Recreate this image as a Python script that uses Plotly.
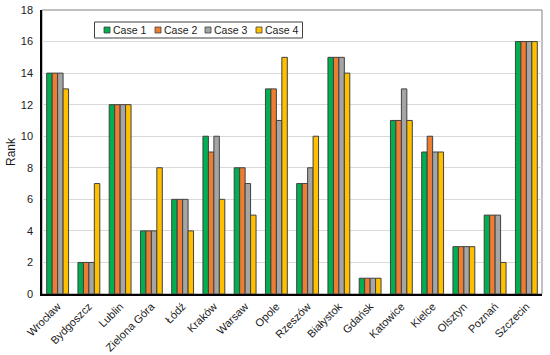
import plotly.graph_objects as go

cities = ["Wrocław", "Bydgoszcz", "Lublin", "Zielona Góra", "Łódź", "Kraków", "Warsaw", "Opole",
          "Rzeszów", "Białystok", "Gdańsk", "Katowice", "Kielce", "Olsztyn", "Poznań", "Szczecin"]
case1 = [14, 2, 12, 4, 6, 10, 8, 13, 7, 15, 1, 11, 9, 3, 5, 16]
case2 = [14, 2, 12, 4, 6, 9, 8, 13, 7, 15, 1, 11, 10, 3, 5, 16]
case3 = [14, 2, 12, 4, 6, 10, 7, 11, 8, 15, 1, 13, 9, 3, 5, 16]
case4 = [13, 7, 12, 8, 4, 6, 5, 15, 10, 14, 1, 11, 9, 3, 2, 16]
y_ticks = [0, 2, 4, 6, 8, 10, 12, 14, 16, 18]

series = [("Case 1", case1, "#00B050"), ("Case 2", case2, "#ED7D31"),
          ("Case 3", case3, "#A5A5A5"), ("Case 4", case4, "#FFC000")]

W, H = 550, 355
L, R, T, B = 42, 8, 10, 61
pw, ph = W - L - R, H - T - B

def px(x):
    return (x - L) / pw

def py(y):
    return (H - B - y) / ph

fig = go.Figure()
for name, vals, col in series:
    fig.add_trace(go.Bar(x=cities, y=vals, name=name,
                         marker=dict(color=col, line=dict(color="#404040", width=1))))

FONT = "Liberation Sans, Arial, sans-serif"
fig.update_layout(
    width=W, height=H,
    margin=dict(l=L, r=R, t=T, b=B),
    paper_bgcolor="white", plot_bgcolor="white",
    font=dict(family=FONT, size=11, color="#1a1a1a"),
    barmode="group", bargap=0.3, bargroupgap=0,
    showlegend=False,
    xaxis=dict(tickangle=-45, showline=True, linecolor="#000", linewidth=1.5,
               ticks="", tickfont=dict(size=11), automargin=False),
    yaxis=dict(range=[0, 18], tickvals=y_ticks, showgrid=True, gridcolor="#d9d9d9",
               zeroline=False, showline=True, linecolor="#000", linewidth=1.5, ticks="",
               ticklabelstandoff=5, automargin=False,
               title=dict(text="Rank", font=dict(size=12), standoff=3),
               tickfont=dict(size=11)),
)
# grey frame on top/right
fig.add_shape(type="rect", xref="paper", yref="paper", x0=0, y0=0, x1=1, y1=1,
              line=dict(color="#808080", width=1), layer="below")

# custom legend (box, swatches, labels)
fig.add_shape(type="rect", xref="paper", yref="paper", x0=px(94.5), x1=px(302.5),
              y0=py(38), y1=py(22), line=dict(color="#404040", width=1), fillcolor="white")
sw_x = [104, 155, 205, 256]
for (name, vals, col), sx in zip(series, sw_x):
    fig.add_shape(type="rect", xref="paper", yref="paper", x0=px(sx), x1=px(sx + 6),
                  y0=py(33), y1=py(27), line=dict(color="#404040", width=0.8), fillcolor=col)
    fig.add_annotation(xref="paper", yref="paper", x=px(sx + 7.5), y=py(30), text=name,
                       showarrow=False, xanchor="left", yanchor="middle",
                       font=dict(family=FONT, size=10.5, color="#1a1a1a"), borderpad=0)

fig.write_html("out.html", config={"displayModeBar": False},
               post_script="document.body.style.margin='0';")
